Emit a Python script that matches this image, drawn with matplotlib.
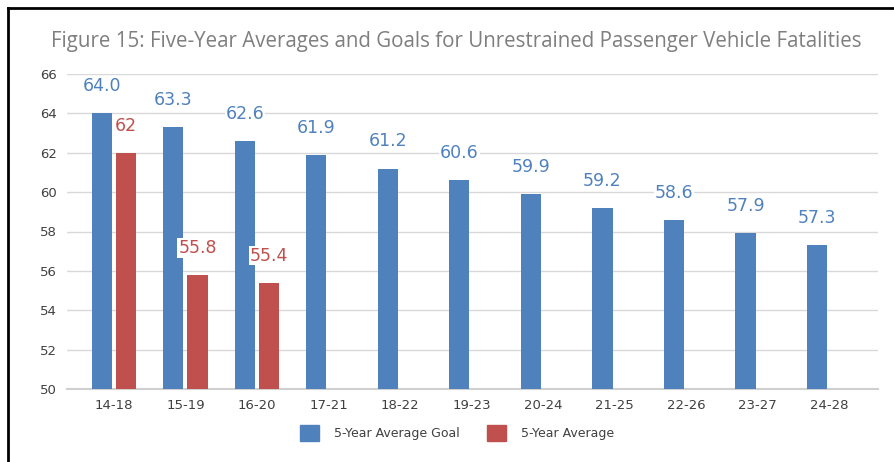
import matplotlib
matplotlib.use("Agg")
import matplotlib.pyplot as plt
from matplotlib.lines import Line2D
from matplotlib.patches import Patch
import numpy as np

# ── data ─────────────────────────────────────────────
periods = ["14-18", "15-19", "16-20", "17-21", "18-22", "19-23",
           "20-24", "21-25", "22-26", "23-27", "24-28"]
goal = [64.0, 63.3, 62.6, 61.9, 61.2, 60.6, 59.9, 59.2, 58.6, 57.9, 57.3]
goal_labels = ["64.0", "63.3", "62.6", "61.9", "61.2", "60.6",
               "59.9", "59.2", "58.6", "57.9", "57.3"]
actual = [62, 55.8, 55.4]
actual_labels = ["62", "55.8", "55.4"]

BLUE = "#4F81BD"
RED = "#C0504D"
TXT = "#404040"

fig = plt.figure(figsize=(8.94, 4.62), dpi=100)
ax = fig.add_axes([67 / 894, 1 - 389 / 462, 811 / 894, 315 / 462])

x = np.arange(len(periods))
off = 0.168
w = 0.28
ax.bar(x - off, goal, width=w, color=BLUE, zorder=3)
xa = x[:len(actual)]
ax.bar(xa + off, actual, width=w, color=RED, zorder=3)

# value labels, ~28 px above each bar
for xi, v, s in zip(x, goal, goal_labels):
    ax.annotate(s, (xi - off, v), xytext=(0, 19.5), textcoords="offset points",
                ha="center", va="center", fontsize=12.5, color=BLUE, zorder=4,
                bbox=dict(boxstyle="square,pad=0.05", fc="white", ec="none"))
for xi, v, s in zip(xa, actual, actual_labels):
    ax.annotate(s, (xi + off, v), xytext=(0, 19.5), textcoords="offset points",
                ha="center", va="center", fontsize=12.5, color=RED, zorder=4,
                bbox=dict(boxstyle="square,pad=0.05", fc="white", ec="none"))

ax.set_ylim(50, 66)
ax.set_yticks(np.arange(50, 67, 2))
ax.set_xlim(-0.657, 10.685)
ax.set_xticks(x)
ax.set_xticklabels(periods)
ax.tick_params(axis="both", length=0, labelsize=9.5, labelcolor=TXT)
ax.tick_params(axis="x", pad=7)
ax.tick_params(axis="y", pad=7)
ax.grid(axis="y", color="#D9D9D9", linewidth=1, zorder=0)
for sp in ["top", "right", "left"]:
    ax.spines[sp].set_visible(False)
ax.spines["bottom"].set_color("#D0D0D0")
ax.spines["bottom"].set_linewidth(1.5)

fig.text(456 / 894, 1 - 42 / 462,
         "Figure 15: Five-Year Averages and Goals for Unrestrained Passenger Vehicle Fatalities",
         ha="center", va="center", fontsize=14.8, color="#7F7F7F",
         fontfamily="Open Sans")

handles = [Patch(color=BLUE, label="5-Year Average Goal"),
           Patch(color=RED, label="5-Year Average")]
fig.legend(handles=handles, loc="center", bbox_to_anchor=(457 / 894, 1 - 433 / 462),
           ncol=2, frameon=False, fontsize=9, labelcolor=TXT,
           handlelength=1.55, handleheight=1.55, columnspacing=2.15, handletextpad=1.2)

# black frame lines (top and left)
fig.add_artist(Line2D([8 / 894, 8 / 894], [0, 1 - 8 / 462], color="black", lw=2,
                      transform=fig.transFigure))
fig.add_artist(Line2D([8 / 894, 1], [1 - 8 / 462, 1 - 8 / 462], color="black", lw=2,
                      transform=fig.transFigure))

fig.savefig("out.png", dpi=100)
